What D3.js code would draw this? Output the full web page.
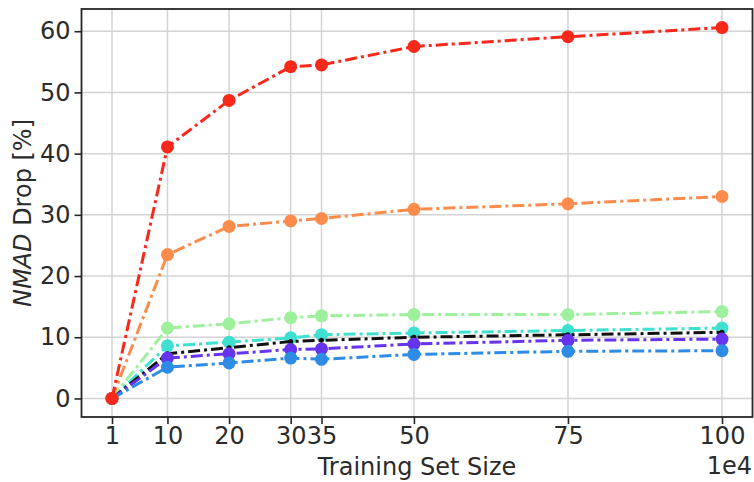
<!DOCTYPE html>
<html lang="en">
<head>
    <meta charset="UTF-8">
    <title>NMAD Drop</title>
    <script src="https://d3js.org/d3.v7.min.js"></script>
    <style>
        body { margin: 0; background: #fff; }
        svg { display: block; }
        text { font-family: "DejaVu Sans", sans-serif; fill: #2b2b2b; }
        .grid line { stroke: #d4d4d4; stroke-width: 1.5; }
    </style>
</head>
<body>
    <svg width="754" height="482"></svg>
    <script>
        // training set sizes (x 1e4)
        const sizes = [1, 10, 20, 30, 35, 50, 75, 100];
        const xTicks = [1, 10, 20, 30, 35, 50, 75, 100];
        const yTicks = [0, 10, 20, 30, 40, 50, 60];

        const red = [0, 41.1, 48.7, 54.2, 54.5, 57.5, 59.1, 60.6];
        const orange = [0, 23.5, 28.1, 29.0, 29.4, 30.9, 31.8, 33.0];
        const green = [0, 11.5, 12.2, 13.2, 13.5, 13.7, 13.7, 14.2];
        const turquoise = [0, 8.6, 9.2, 9.9, 10.4, 10.7, 11.1, 11.5];
        const black = [0, 7.3, 8.3, 9.3, 9.5, 10.0, 10.4, 10.8];
        const purple = [0, 6.6, 7.3, 8.0, 8.1, 8.9, 9.5, 9.7];
        const blue = [0, 5.1, 5.8, 6.6, 6.4, 7.2, 7.7, 7.8];

        // drawing order, last on top
        const series = [
            {values: turquoise, color: '#40e0d0', r: 6.5},
            {values: green, color: '#9ef09c', r: 6.5},
            {values: black, color: '#111111', r: 2.5},
            {values: purple, color: '#6634ee', r: 6.5},
            {values: blue, color: '#2e8ce6', r: 6.5},
            {values: orange, color: '#fd8c4c', r: 6.5},
            {values: red, color: '#f8291b', r: 6.5}
        ];

        const margin = {top: 9, right: 1.5, bottom: 65, left: 81.5};
        const width = 754, height = 482;
        const fontSize = '24px';

        const svg = d3.select('svg');

        const x = d3.scaleLinear()
            .domain([-3.95, 104.95])
            .range([margin.left, width - margin.right]);
        const y = d3.scaleLinear()
            .domain([-3.03, 63.63])
            .range([height - margin.bottom, margin.top]);

        // grid
        svg.append('g').attr('class', 'grid')
            .selectAll('line').data(xTicks).enter().append('line')
            .attr('x1', d => x(d)).attr('x2', d => x(d))
            .attr('y1', margin.top).attr('y2', height - margin.bottom);
        svg.append('g').attr('class', 'grid')
            .selectAll('line').data(yTicks).enter().append('line')
            .attr('y1', d => y(d)).attr('y2', d => y(d))
            .attr('x1', margin.left).attr('x2', width - margin.right);

        // lines + markers
        const line = d3.line()
            .x((d, i) => x(sizes[i]))
            .y(d => y(d));

        series.forEach(s => {
            const g = svg.append('g');
            g.append('path')
                .datum(s.values)
                .attr('d', line)
                .attr('fill', 'none')
                .attr('stroke', s.color)
                .attr('stroke-width', 3)
                .attr('stroke-dasharray', '12,4,3,4');
            g.selectAll('circle').data(s.values).enter().append('circle')
                .attr('cx', (d, i) => x(sizes[i]))
                .attr('cy', d => y(d))
                .attr('r', s.r)
                .attr('fill', s.color);
        });

        // axes
        const xAxis = svg.append('g')
            .attr('transform', `translate(0,${height - margin.bottom})`)
            .call(d3.axisBottom(x).tickValues(xTicks).tickSize(7).tickPadding(3));
        const yAxis = svg.append('g')
            .attr('transform', `translate(${margin.left},0)`)
            .call(d3.axisLeft(y).tickValues(yTicks).tickSize(7).tickPadding(4));

        [xAxis, yAxis].forEach(a => {
            a.select('.domain').remove();
            a.selectAll('.tick line').attr('stroke', '#262626').attr('stroke-width', 1.6);
            a.selectAll('.tick text')
                .style('font-family', '"DejaVu Sans", sans-serif')
                .style('font-size', fontSize)
                .attr('fill', '#2b2b2b');
        });

        // frame
        svg.append('rect')
            .attr('x', margin.left).attr('y', margin.top)
            .attr('width', width - margin.left - margin.right)
            .attr('height', height - margin.top - margin.bottom)
            .attr('fill', 'none')
            .attr('stroke', '#262626')
            .attr('stroke-width', 1.8);

        // labels
        svg.append('text')
            .attr('x', 417)
            .attr('y', 475)
            .attr('text-anchor', 'middle')
            .style('font-size', fontSize)
            .text('Training Set Size');

        svg.append('text')
            .attr('x', width - 2)
            .attr('y', 474)
            .attr('text-anchor', 'end')
            .style('font-size', fontSize)
            .text('1e4');

        const yl = svg.append('text')
            .attr('transform', `translate(31,${(margin.top + height - margin.bottom) / 2}) rotate(-90)`)
            .attr('text-anchor', 'middle')
            .style('font-size', fontSize);
        yl.append('tspan').style('font-style', 'italic').text('NMAD');
        yl.append('tspan').text(' Drop [%]');
    </script>
</body>
</html>
